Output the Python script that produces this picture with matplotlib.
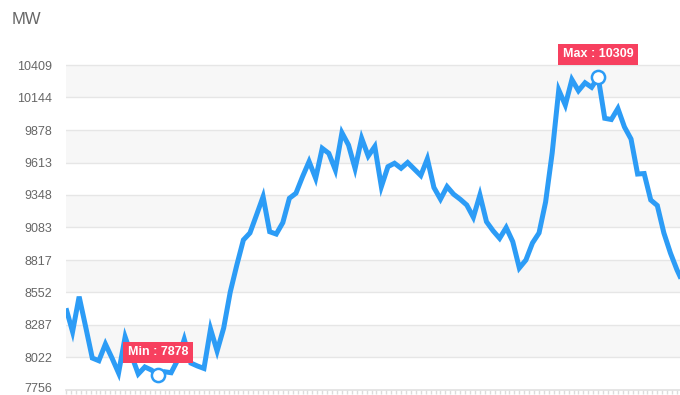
import numpy as np
import matplotlib
matplotlib.use("Agg")
import matplotlib.pyplot as plt
from matplotlib.transforms import ScaledTranslation

# Load (MW), one reading per 15 minutes
load_mw = [
    8423, 8232, 8518, 8270, 8017, 7995, 8131, 8017, 7895, 8189,
    8034, 7887, 7944, 7919, 7878, 7905, 7897, 8001, 8170, 7976,
    7952, 7932, 8254, 8074, 8262, 8556, 8776, 8981, 9038, 9185,
    9334, 9048, 9029, 9122, 9321, 9362, 9497, 9621, 9484, 9729,
    9688, 9552, 9856, 9756, 9564, 9811, 9666, 9744, 9416, 9579,
    9607, 9566, 9613, 9560, 9507, 9643, 9409, 9314, 9416, 9354,
    9313, 9266, 9166, 9348, 9130, 9056, 8994, 9082, 8967, 8752,
    8817, 8956, 9038, 9291, 9691, 10205, 10082, 10290, 10199, 10264,
    10227, 10309, 9974, 9964, 10054, 9903, 9805, 9519, 9523, 9307,
    9262, 9038, 8874, 8736, 8621,
]
y_ticks = [7756, 8022, 8287, 8552, 8817, 9083, 9348, 9613, 9878, 10144, 10409]
unit_label = "MW"

LINE = "#2c9cf6"
BADGE = "#f7405f"
GRID = "#e6e6e6"
BAND = "#f7f7f7"
TEXT = "#666666"

plt.rcParams["font.family"] = ["Liberation Sans", "DejaVu Sans"]

fig = plt.figure(figsize=(6.8, 3.95), dpi=100)
W, H = 680, 395
left_px, right_px, top_px, bottom_px = 66, 680, 30, 390
ax = fig.add_axes([left_px / W, 1 - bottom_px / H,
                   (right_px - left_px) / W, (bottom_px - top_px) / H])

x = np.arange(len(load_mw))
px_per_val = (bottom_px - 65) / (y_ticks[-1] - y_ticks[0])

# alternating horizontal bands and grid lines
for k in range(len(y_ticks) - 1):
    if (len(y_ticks) - 2 - k) % 2 == 0:
        ax.axhspan(y_ticks[k], y_ticks[k + 1], color=BAND, lw=0, zorder=0)
for v in y_ticks[1:]:
    ax.axhline(v, color=GRID, lw=1, zorder=1)

ax.plot(x, load_mw, color=LINE, lw=3.6, solid_joinstyle="miter",
        solid_capstyle="butt", zorder=3, clip_on=True)

# min / max markers and badges
imin = int(np.argmin(load_mw))
imax = int(np.argmax(load_mw))
for idx, tag in ((imin, "Min"), (imax, "Max")):
    val = load_mw[idx]
    ax.plot(idx, val, "o", ms=9.5, mfc="white", mec=LINE, mew=1.8, zorder=5)
    ax.annotate(f"{tag} : {val}", xy=(idx, val), xytext=(0, 23),
                textcoords="offset pixels", ha="center", va="center",
                fontsize=9, fontweight="bold", color="white", zorder=6,
                bbox=dict(boxstyle="square,pad=0.36", fc=BADGE, ec="none"))

ax.set_yticks(y_ticks)
ax.set_yticklabels([str(v) for v in y_ticks])
ax.tick_params(axis="y", length=0, pad=10, labelsize=9, labelcolor=TEXT)

# bottom axis with fine ticks
ax.set_xticks(np.arange(0, 95, 0.75))
ax.tick_params(axis="x", length=3, width=1, color="#dcdcdc", labelbottom=False,
               direction="out")
for side in ("left", "right", "top"):
    ax.spines[side].set_visible(False)
ax.spines["bottom"].set_color("#e0e0e0")
ax.spines["bottom"].set_linewidth(1.2)
ax.set_facecolor("white")

# limits last, so tick placement does not widen them
ax.set_xlim(0, (right_px - left_px) / 6.57)
ax.set_ylim(y_ticks[0], y_ticks[0] + (bottom_px - top_px) / px_per_val)

# keep the lowest tick label inside the canvas
lowest = ax.get_yticklabels()[0]
lowest.set_transform(lowest.get_transform()
                     + ScaledTranslation(0, 2 / 100, fig.dpi_scale_trans))

fig.text(12 / W, 1 - 20 / H, unit_label, fontsize=12, color=TEXT,
         ha="left", va="center")

fig.savefig("out.png", dpi=100)
